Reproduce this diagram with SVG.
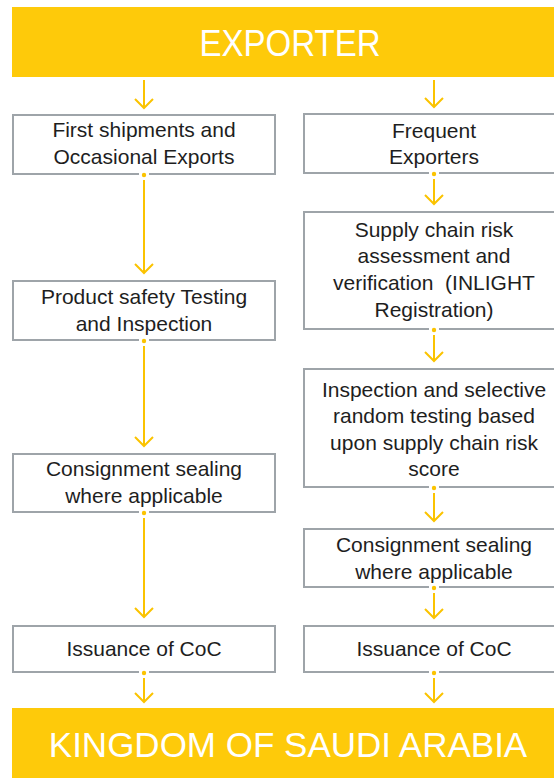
<svg xmlns="http://www.w3.org/2000/svg" width="554" height="778" viewBox="0 0 554 778">
<style>
.bar{fill:#FECA0A}
.bt{fill:#ffffff;font-family:"Liberation Sans",Arial,sans-serif;font-size:37px;text-anchor:middle}
.box{fill:#ffffff;stroke:#9EA4A9;stroke-width:2}
.t{fill:#1e1e1e;font-family:"Liberation Sans",Arial,sans-serif;font-size:21px;text-anchor:middle;white-space:pre}
.ln{stroke:#FBC300;stroke-width:2;fill:none;marker-end:url(#ah)}
.gap{fill:#ffffff}
.dot{fill:#FBC300}
</style>
<defs>
<marker id="ah" viewBox="-11 -10 13 20" markerWidth="13" markerHeight="20" refX="0" refY="0" orient="auto" markerUnits="userSpaceOnUse">
<path d="M-9,-9 L0,0 L-9,9" fill="none" stroke="#FBC300" stroke-width="2"/>
</marker>
</defs>
<g id="exporter">
<rect class="bar" x="12" y="7" width="542" height="70"/>
<text class="bt" x="290" y="56" textLength="181" lengthAdjust="spacingAndGlyphs">EXPORTER</text>
</g>
<g id="first">
<rect class="box" x="13" y="115" width="262" height="59"/>
<text class="t" x="144" y="137">First shipments and</text>
<text class="t" x="144" y="164">Occasional Exports</text>
</g>
<g id="product">
<rect class="box" x="13" y="281" width="262" height="59"/>
<text class="t" x="144" y="304">Product safety Testing</text>
<text class="t" x="144" y="331">and Inspection</text>
</g>
<g id="sealing-left">
<rect class="box" x="13" y="454" width="262" height="58"/>
<text class="t" x="144" y="476">Consignment sealing</text>
<text class="t" x="144" y="503">where applicable</text>
</g>
<g id="coc-left">
<rect class="box" x="13" y="626" width="262" height="46"/>
<text class="t" x="144" y="656">Issuance of CoC</text>
</g>
<g id="frequent">
<rect class="box" x="304" y="114" width="264" height="59"/>
<text class="t" x="434" y="138">Frequent</text>
<text class="t" x="434" y="164">Exporters</text>
</g>
<g id="supply">
<rect class="box" x="304" y="212" width="264" height="117"/>
<text class="t" x="434" y="237">Supply chain risk</text>
<text class="t" x="434" y="263">assessment and</text>
<text class="t" x="434" y="290">verification  (INLIGHT</text>
<text class="t" x="434" y="317">Registration)</text>
</g>
<g id="inspection">
<rect class="box" x="304" y="369" width="264" height="118"/>
<text class="t" x="434" y="397">Inspection and selective</text>
<text class="t" x="434" y="423">random testing based</text>
<text class="t" x="434" y="450">upon supply chain risk</text>
<text class="t" x="434" y="476">score</text>
</g>
<g id="sealing-right">
<rect class="box" x="304" y="529" width="264" height="58"/>
<text class="t" x="434" y="552">Consignment sealing</text>
<text class="t" x="434" y="579">where applicable</text>
</g>
<g id="coc-right">
<rect class="box" x="304" y="626" width="264" height="46"/>
<text class="t" x="434" y="656">Issuance of CoC</text>
</g>
<g id="ksa">
<rect class="bar" x="12" y="708" width="542" height="70"/>
<text class="bt" x="288" y="757" style="font-size:35px">KINGDOM OF SAUDI ARABIA</text>
</g>
<g id="connectors">
<line class="ln" x1="144" y1="80" x2="144" y2="108"/>
<line class="ln" x1="434" y1="80" x2="434" y2="107"/>
<rect class="gap" x="139" y="173" width="10" height="3"/><circle class="dot" cx="144" cy="175" r="2.2"/>
<line class="ln" x1="144" y1="180" x2="144" y2="273"/>
<rect class="gap" x="139" y="339" width="10" height="3"/><circle class="dot" cx="144" cy="341" r="2.2"/>
<line class="ln" x1="144" y1="346" x2="144" y2="446"/>
<rect class="gap" x="139" y="511" width="10" height="3"/><circle class="dot" cx="144" cy="513" r="2.2"/>
<line class="ln" x1="144" y1="518" x2="144" y2="617"/>
<rect class="gap" x="139" y="671" width="10" height="3"/><circle class="dot" cx="144" cy="673" r="2.2"/>
<line class="ln" x1="144" y1="678" x2="144" y2="702"/>
<rect class="gap" x="429" y="172" width="10" height="3"/><circle class="dot" cx="434" cy="174" r="2.2"/>
<line class="ln" x1="434" y1="179" x2="434" y2="204"/>
<rect class="gap" x="429" y="328" width="10" height="3"/><circle class="dot" cx="434" cy="330" r="2.2"/>
<line class="ln" x1="434" y1="335" x2="434" y2="361"/>
<rect class="gap" x="429" y="486" width="10" height="3"/><circle class="dot" cx="434" cy="488" r="2.2"/>
<line class="ln" x1="434" y1="493" x2="434" y2="521"/>
<rect class="gap" x="429" y="586" width="10" height="3"/><circle class="dot" cx="434" cy="588" r="2.2"/>
<line class="ln" x1="434" y1="593" x2="434" y2="618"/>
<rect class="gap" x="429" y="671" width="10" height="3"/><circle class="dot" cx="434" cy="673" r="2.2"/>
<line class="ln" x1="434" y1="678" x2="434" y2="702"/>
</g>
</svg>
